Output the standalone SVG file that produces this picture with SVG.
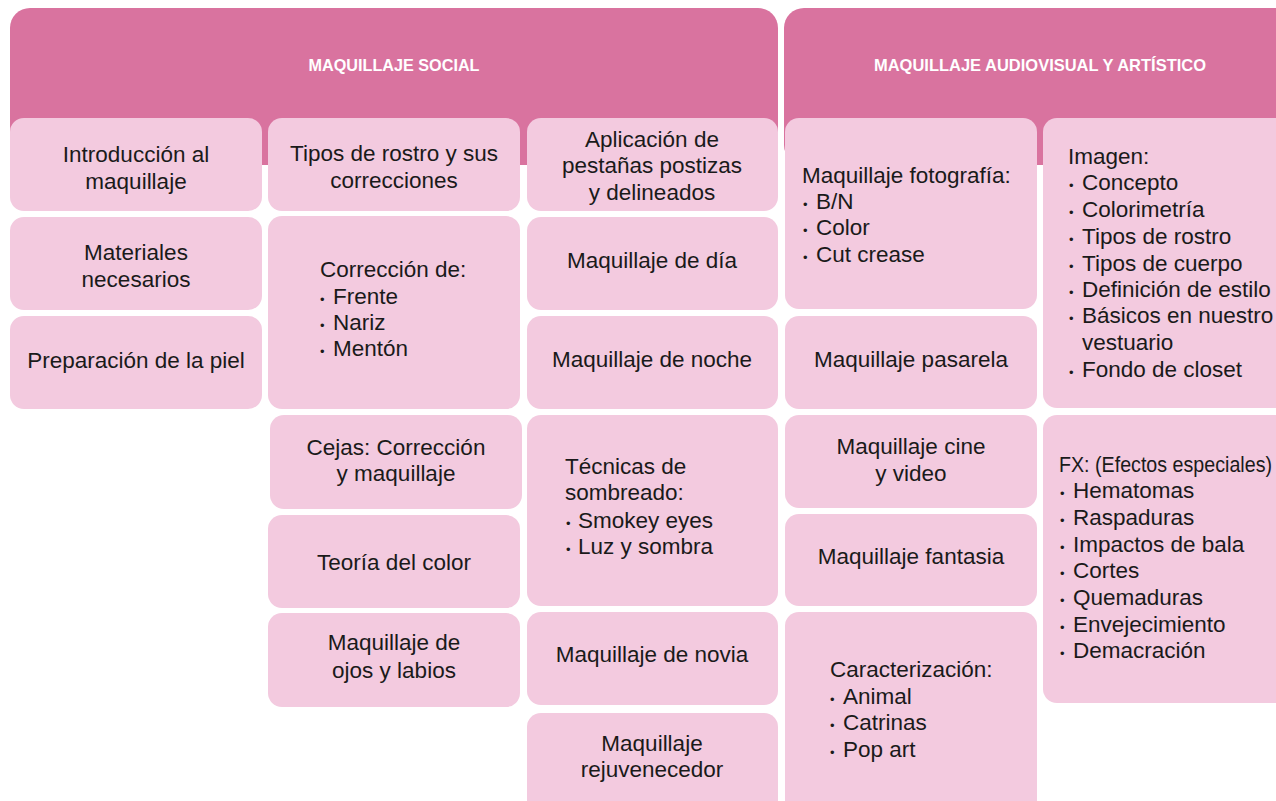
<svg xmlns="http://www.w3.org/2000/svg" width="1276" height="801" viewBox="0 0 1276 801">
<style>
.hdr{fill:#D9739F}
.box{fill:#F3CADF}
.ht{font-family:"Liberation Sans",Arial,sans-serif;font-weight:bold;font-size:17px;fill:#FFFFFF;text-anchor:middle}
.t{font-family:"Liberation Sans",Arial,sans-serif;font-size:22.5px;fill:#1A1A1A}
.c{text-anchor:middle}
.b{font-size:13px}
</style>
<rect width="1276" height="801" fill="#FFFFFF"/>
<g id="header-social"><rect class="hdr" x="10" y="8" width="768" height="157" rx="20"/><text class="ht" x="394" y="71" textLength="171" lengthAdjust="spacingAndGlyphs">MAQUILLAJE SOCIAL</text></g>
<g id="header-audiovisual"><rect class="hdr" x="784" y="8" width="520" height="157" rx="20"/><text class="ht" x="1040" y="71" textLength="332" lengthAdjust="spacingAndGlyphs">MAQUILLAJE AUDIOVISUAL Y ARTÍSTICO</text></g>
<g id="connectors"></g>
<!-- column 1 -->
<g id="n-intro"><rect class="box" x="10" y="118" width="252" height="93" rx="14"/><text class="t c"><tspan x="136" y="162">Introducción al</tspan><tspan x="136" y="189">maquillaje</tspan></text></g>
<g id="n-materiales"><rect class="box" x="10" y="217" width="252" height="93" rx="14"/><text class="t c"><tspan x="136" y="260">Materiales</tspan><tspan x="136" y="287">necesarios</tspan></text></g>
<g id="n-piel"><rect class="box" x="10" y="316" width="252" height="93" rx="14"/><text class="t c" x="136" y="368">Preparación de la piel</text></g>
<!-- column 2 -->
<g id="n-tipos"><rect class="box" x="268" y="118" width="252" height="93" rx="14"/><text class="t c"><tspan x="394" y="161">Tipos de rostro y sus</tspan><tspan x="394" y="188">correcciones</tspan></text></g>
<g id="n-correccion"><rect class="box" x="268" y="216" width="252" height="193" rx="14"/><text class="t"><tspan x="320" y="277">Corrección de:</tspan><tspan class="b" x="320" y="304">•</tspan><tspan x="333" y="304">Frente</tspan><tspan class="b" x="320" y="330">•</tspan><tspan x="333" y="330">Nariz</tspan><tspan class="b" x="320" y="356">•</tspan><tspan x="333" y="356">Mentón</tspan></text></g>
<g id="n-cejas"><rect class="box" x="270" y="415" width="252" height="94" rx="14"/><text class="t c"><tspan x="396" y="455">Cejas: Corrección</tspan><tspan x="396" y="481">y maquillaje</tspan></text></g>
<g id="n-color"><rect class="box" x="268" y="515" width="252" height="93" rx="14"/><text class="t c" x="394" y="570">Teoría del color</text></g>
<g id="n-ojos"><rect class="box" x="268" y="613" width="252" height="94" rx="14"/><text class="t c"><tspan x="394" y="650">Maquillaje de</tspan><tspan x="394" y="678">ojos y labios</tspan></text></g>
<!-- column 3 -->
<g id="n-pestanas"><rect class="box" x="527" y="118" width="251" height="93" rx="14"/><text class="t c"><tspan x="652" y="147">Aplicación de</tspan><tspan x="652" y="173">pestañas postizas</tspan><tspan x="652" y="200">y delineados</tspan></text></g>
<g id="n-dia"><rect class="box" x="527" y="217" width="251" height="93" rx="14"/><text class="t c" x="652" y="268">Maquillaje de día</text></g>
<g id="n-noche"><rect class="box" x="527" y="316" width="251" height="93" rx="14"/><text class="t c" x="652" y="367">Maquillaje de noche</text></g>
<g id="n-sombreado"><rect class="box" x="527" y="415" width="251" height="191" rx="14"/><text class="t"><tspan x="565" y="474">Técnicas de</tspan><tspan x="565" y="500">sombreado:</tspan><tspan class="b" x="566" y="528">•</tspan><tspan x="578" y="528">Smokey eyes</tspan><tspan class="b" x="566" y="554">•</tspan><tspan x="578" y="554">Luz y sombra</tspan></text></g>
<g id="n-novia"><rect class="box" x="527" y="612" width="251" height="93" rx="14"/><text class="t c" x="652" y="662">Maquillaje de novia</text></g>
<g id="n-rejuvenecedor"><rect class="box" x="527" y="713" width="251" height="110" rx="14"/><text class="t c"><tspan x="652" y="751">Maquillaje</tspan><tspan x="652" y="777">rejuvenecedor</tspan></text></g>
<!-- column 4 -->
<g id="n-fotografia"><rect class="box" x="785" y="118" width="252" height="191" rx="14"/><text class="t"><tspan x="802" y="183">Maquillaje fotografía:</tspan><tspan class="b" x="803" y="209">•</tspan><tspan x="816" y="209">B/N</tspan><tspan class="b" x="803" y="235">•</tspan><tspan x="816" y="235">Color</tspan><tspan class="b" x="803" y="262">•</tspan><tspan x="816" y="262">Cut crease</tspan></text></g>
<g id="n-pasarela"><rect class="box" x="785" y="316" width="252" height="93" rx="14"/><text class="t c" x="911" y="367">Maquillaje pasarela</text></g>
<g id="n-cine"><rect class="box" x="785" y="415" width="252" height="93" rx="14"/><text class="t c"><tspan x="911" y="454">Maquillaje cine</tspan><tspan x="911" y="481">y video</tspan></text></g>
<g id="n-fantasia"><rect class="box" x="785" y="514" width="252" height="92" rx="14"/><text class="t c" x="911" y="564">Maquillaje fantasia</text></g>
<g id="n-caracterizacion"><rect class="box" x="785" y="612" width="252" height="210" rx="14"/><text class="t"><tspan x="830" y="677">Caracterización:</tspan><tspan class="b" x="830" y="704">•</tspan><tspan x="843" y="704">Animal</tspan><tspan class="b" x="830" y="730">•</tspan><tspan x="843" y="730">Catrinas</tspan><tspan class="b" x="830" y="757">•</tspan><tspan x="843" y="757">Pop art</tspan></text></g>
<!-- column 5 -->
<g id="n-imagen"><rect class="box" x="1043" y="118" width="260" height="290" rx="14"/><text class="t"><tspan x="1068" y="164">Imagen:</tspan><tspan class="b" x="1069" y="190">•</tspan><tspan x="1082" y="190">Concepto</tspan><tspan class="b" x="1069" y="217">•</tspan><tspan x="1082" y="217">Colorimetría</tspan><tspan class="b" x="1069" y="244">•</tspan><tspan x="1082" y="244">Tipos de rostro</tspan><tspan class="b" x="1069" y="271">•</tspan><tspan x="1082" y="271">Tipos de cuerpo</tspan><tspan class="b" x="1069" y="297">•</tspan><tspan x="1082" y="297">Definición de estilo</tspan><tspan class="b" x="1069" y="323">•</tspan><tspan x="1082" y="323">Básicos en nuestro</tspan><tspan x="1082" y="350">vestuario</tspan><tspan class="b" x="1069" y="377">•</tspan><tspan x="1082" y="377">Fondo de closet</tspan></text></g>
<g id="n-fx"><rect class="box" x="1043" y="415" width="260" height="288" rx="14"/><text class="t"><tspan x="1059" y="472" textLength="213" lengthAdjust="spacingAndGlyphs">FX: (Efectos especiales)</tspan><tspan class="b" x="1060" y="498">•</tspan><tspan x="1073" y="498">Hematomas</tspan><tspan class="b" x="1060" y="525">•</tspan><tspan x="1073" y="525">Raspaduras</tspan><tspan class="b" x="1060" y="552">•</tspan><tspan x="1073" y="552">Impactos de bala</tspan><tspan class="b" x="1060" y="578">•</tspan><tspan x="1073" y="578">Cortes</tspan><tspan class="b" x="1060" y="605">•</tspan><tspan x="1073" y="605">Quemaduras</tspan><tspan class="b" x="1060" y="632">•</tspan><tspan x="1073" y="632">Envejecimiento</tspan><tspan class="b" x="1060" y="658">•</tspan><tspan x="1073" y="658">Demacración</tspan></text></g>
</svg>
